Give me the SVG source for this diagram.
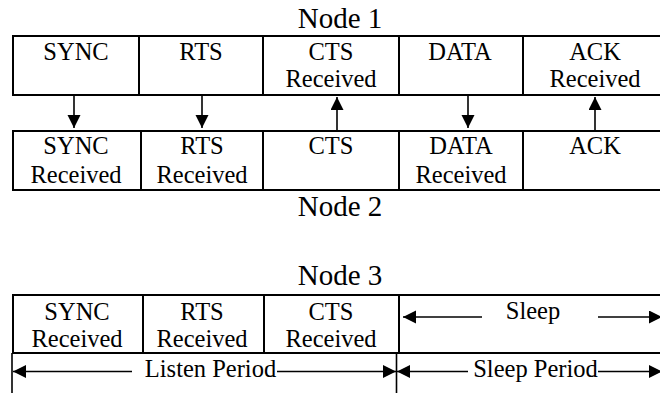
<svg xmlns="http://www.w3.org/2000/svg" width="660" height="393" viewBox="0 0 660 393">
  <style>
    text { font-family: 'Liberation Serif', 'Times New Roman', Tinos, 'DejaVu Serif', serif; fill: #000; text-anchor: middle; }
    .title { font-size: 29px; }
    .lbl { font-size: 24.5px; }
    .box { fill: none; stroke: #000; stroke-width: 2; }
    .wire { fill: none; stroke: #000; stroke-width: 1.6; }
    .rule { fill: none; stroke: #000; stroke-width: 1.6; }
  </style>
  <defs>
    <marker id="head" markerUnits="userSpaceOnUse" markerWidth="14" markerHeight="14" refX="13" refY="6.5" orient="auto">
      <path d="M0,0 L13,6.5 L0,13 z" fill="#000"/>
    </marker>
  </defs>
  <rect width="660" height="393" fill="#fff"/>

  <!-- Node 1 -->
  <g id="node1">
    <text class="title" x="340" y="28">Node 1</text>
    <path class="box" d="M662,36 H13 V95 H662 M139,36 V95 M263,36 V95 M399,36 V95 M523,36 V95"/>
    <g id="n1-sync"><text class="lbl" x="76" y="60">SYNC</text></g>
    <g id="n1-rts"><text class="lbl" x="201" y="60">RTS</text></g>
    <g id="n1-cts"><text class="lbl" x="331" y="60">CTS</text><text class="lbl" x="331" y="87">Received</text></g>
    <g id="n1-data"><text class="lbl" x="460" y="60">DATA</text></g>
    <g id="n1-ack"><text class="lbl" x="595" y="60">ACK</text><text class="lbl" x="595" y="87">Received</text></g>
  </g>

  <!-- Node 2 -->
  <g id="node2">
    <path class="box" d="M662,131 H13 V190 H662 M141,131 V190 M263,131 V190 M399,131 V190 M523,131 V190"/>
    <g id="n2-sync"><text class="lbl" x="76" y="154">SYNC</text><text class="lbl" x="76" y="183">Received</text></g>
    <g id="n2-rts"><text class="lbl" x="202" y="154">RTS</text><text class="lbl" x="202" y="183">Received</text></g>
    <g id="n2-cts"><text class="lbl" x="331" y="154">CTS</text></g>
    <g id="n2-data"><text class="lbl" x="461" y="154">DATA</text><text class="lbl" x="461" y="183">Received</text></g>
    <g id="n2-ack"><text class="lbl" x="595" y="154">ACK</text></g>
    <text class="title" x="340" y="216">Node 2</text>
  </g>

  <!-- frame exchange between node 1 and node 2 -->
  <g id="connectors">
    <line class="wire" x1="74" y1="96" x2="74" y2="128" marker-end="url(#head)"/>
    <line class="wire" x1="202" y1="96" x2="202" y2="128" marker-end="url(#head)"/>
    <line class="wire" x1="337" y1="130" x2="337" y2="97" marker-end="url(#head)"/>
    <line class="wire" x1="468" y1="96" x2="468" y2="128" marker-end="url(#head)"/>
    <line class="wire" x1="595" y1="130" x2="595" y2="97" marker-end="url(#head)"/>
  </g>

  <!-- Node 3 -->
  <g id="node3">
    <text class="title" x="340" y="285">Node 3</text>
    <path class="box" d="M662,295 H13 V353 M143,295 V353 M264,295 V353 M399,295 V353"/>
    <path class="box" d="M12,353 H662"/>
    <g id="n3-sync"><text class="lbl" x="77" y="320">SYNC</text><text class="lbl" x="77" y="347">Received</text></g>
    <g id="n3-rts"><text class="lbl" x="202" y="320">RTS</text><text class="lbl" x="202" y="347">Received</text></g>
    <g id="n3-cts"><text class="lbl" x="331" y="320">CTS</text><text class="lbl" x="331" y="347">Received</text></g>
    <g id="n3-sleep">
      <text class="lbl" x="533" y="319">Sleep</text>
      <line class="wire" x1="482" y1="317" x2="403" y2="317" marker-end="url(#head)"/>
      <line class="wire" x1="598" y1="317" x2="662" y2="317" marker-end="url(#head)"/>
    </g>
  </g>

  <!-- period markers -->
  <g id="periods">
    <line class="rule" x1="12" y1="353" x2="12" y2="393"/>
    <line class="rule" x1="396.5" y1="353" x2="396.5" y2="393"/>
    <text class="lbl" x="210.5" y="377">Listen Period</text>
    <line class="wire" x1="132" y1="371.5" x2="13" y2="371.5" marker-end="url(#head)"/>
    <line class="wire" x1="277" y1="371.5" x2="396" y2="371.5" marker-end="url(#head)"/>
    <text class="lbl" x="535.5" y="377">Sleep Period</text>
    <line class="wire" x1="468" y1="371.5" x2="397" y2="371.5" marker-end="url(#head)"/>
    <line class="wire" x1="598" y1="371.5" x2="662" y2="371.5" marker-end="url(#head)"/>
  </g>
</svg>
